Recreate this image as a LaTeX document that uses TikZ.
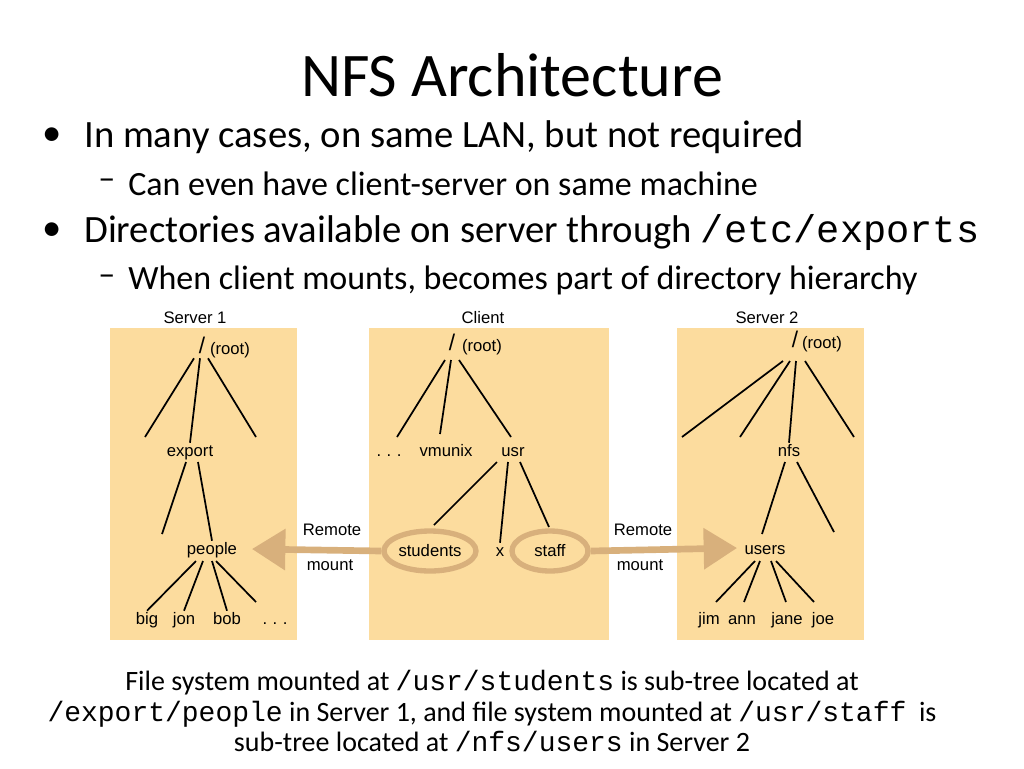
\documentclass[tikz,border=0pt]{standalone}
\usepackage{fontspec}
\setmainfont{Carlito}
\setsansfont{Liberation Sans}
\setmonofont{Liberation Mono}
\usetikzlibrary{arrows.meta}
\definecolor{boxfill}{HTML}{FCDC9E}
\definecolor{mountc}{HTML}{D8B07C}
\tikzset{
  dirbox/.style={fill=boxfill, draw=none},
  lbl/.style={font=\sffamily\fontsize{12.5}{14}\selectfont, inner sep=1pt, text height=9pt, text depth=2.5pt},
  edge/.style={line width=1.3pt, black},
  mountring/.style={draw=mountc, line width=4pt, ellipse},
  mountarrow/.style={draw=mountc, line width=5pt, -{Triangle[width=30pt,length=25pt]}},
  bigtxt/.style={anchor=west, inner sep=0pt, font=\fontsize{29}{32}\selectfont},
  subtxt/.style={anchor=west, inner sep=0pt, font=\fontsize{25.5}{28}\selectfont}
}
\usetikzlibrary{shapes.geometric}
\begin{document}
\begin{tikzpicture}[x=0.75pt, y=-0.75pt]
    \useasboundingbox (0, 0) rectangle (1024, 768);

    % title and bullets
    \node[font=\fontsize{46.5}{50}\selectfont] (title) at (512, 75) {NFS Architecture};
    \node[bigtxt] (dot1) at (42, 137) {\textbullet};
    \node[bigtxt] (b1) at (84, 137) {In many cases, on same LAN, but not required};
    \node[subtxt] (dash1) at (98, 184) {--};
    \node[subtxt] (s1) at (128, 184) {Can even have client-server on same machine};
    \node[bigtxt] (dot2) at (42, 232) {\textbullet};
    \node[bigtxt] (b2) at (84, 232) {Directories available on server through \texttt{/etc/exports}};
    \node[subtxt] (dash2) at (98, 280) {--};
    \node[subtxt] (s2) at (128, 280) {When client mounts, becomes part of directory hierarchy};

    % boxes
    \fill[dirbox] (110, 328) rectangle (297, 640);
    \fill[dirbox] (369, 328) rectangle (609, 640);
    \fill[dirbox] (677, 328) rectangle (864, 640);
    \node[lbl] (srv1) at (195, 319) {Server 1};
    \node[lbl] (cli) at (483, 319) {Client};
    \node[lbl] (srv2) at (767, 319) {Server 2};

    % server 1
    \node[lbl, font=\sffamily\fontsize{17}{18}\selectfont] (r1) at (202, 349) {/};
    \node[lbl] (r1t) at (230, 350) {(root)};
    \coordinate (a1) at (145, 437);
    \coordinate (a3) at (256, 437);
    \node[lbl] (export) at (190, 452) {export};
    \coordinate (e1) at (162, 534);
    \node[lbl] (people) at (212, 550) {people};
    \node[lbl] (big) at (147, 620) {big};
    \node[lbl] (jon) at (184, 620) {jon};
    \node[lbl] (bob) at (227, 620) {bob};
    \node[lbl] (dots1) at (275, 620) {.\,\,.\,\,.};
    \draw[edge] (r1.south) ++(-8, 0) -- (a1);
    \draw[edge] (r1.south) ++(-2, 0) -- (export.north);
    \draw[edge] (r1.south) ++(6, 0) -- (a3);
    \draw[edge] (186, 462) -- (e1);
    \draw[edge] (198, 462) -- (people.north);
    \draw[edge] (196, 561) -- (big.north);
    \draw[edge] (203, 561) -- (jon.north);
    \draw[edge] (212, 561) -- (bob.north);
    \draw[edge] (216, 561) -- (256, 602);

    % client
    \node[lbl, font=\sffamily\fontsize{17}{18}\selectfont] (r2) at (452, 346) {/};
    \node[lbl] (r2t) at (482, 347) {(root)};
    \node[lbl] (dots2) at (389, 452) {.\,\,.\,\,.};
    \node[lbl] (vmunix) at (446, 452) {vmunix};
    \node[lbl] (usr) at (513, 452) {usr};
    \node[lbl] (students) at (430, 552) {students};
    \node[lbl] (x) at (500, 552) {x};
    \node[lbl] (staff) at (550, 552) {staff};
    \draw[edge] (445, 360) -- (397, 437);
    \draw[edge] (451, 360) -- (440, 434);
    \draw[edge] (459, 360) -- (511, 437);
    \draw[edge] (497, 462) -- (434, 525);
    \draw[edge] (508, 462) -- (x.north);
    \draw[edge] (520, 462) -- (549, 527);
    \node[mountring, minimum width=69pt, minimum height=30pt] (ring1) at (430, 551) {};
    \node[mountring, minimum width=57pt, minimum height=30pt] (ring2) at (550, 551) {};

    % server 2
    \node[lbl, font=\sffamily\fontsize{17}{18}\selectfont] (r3) at (795, 343) {/};
    \node[lbl] (r3t) at (822, 344) {(root)};
    \node[lbl] (nfs) at (789, 452) {nfs};
    \node[lbl] (users) at (765, 550) {users};
    \node[lbl] (jim) at (709, 620) {jim};
    \node[lbl] (ann) at (742, 620) {ann};
    \node[lbl] (jane) at (787, 620) {jane};
    \node[lbl] (joe) at (823, 620) {joe};
    \draw[edge] (783, 361) -- (682, 437);
    \draw[edge] (790, 361) -- (740, 437);
    \draw[edge] (796, 361) -- (nfs.north);
    \draw[edge] (805, 361) -- (854, 437);
    \draw[edge] (785, 462) -- (762, 534);
    \draw[edge] (797, 462) -- (834, 532);
    \draw[edge] (755, 561) -- (716, 602);
    \draw[edge] (760, 561) -- (744, 602);
    \draw[edge] (771, 561) -- (786, 602);
    \draw[edge] (776, 561) -- (814, 602);

    % remote mounts
    \coordinate (tip1) at (252, 549);
    \coordinate (tip2) at (737, 548);
    \draw[mountarrow] (ring1.west) -- (tip1);
    \draw[mountarrow] (ring2.east) -- (tip2);
    \node[lbl] (rem1) at (332, 531) {Remote};
    \node[lbl] (mnt1) at (330, 566) {mount};
    \node[lbl] (rem2) at (643, 531) {Remote};
    \node[lbl] (mnt2) at (640, 566) {mount};

    % caption
    \node[align=center, font=\fontsize{21}{23}\selectfont] (caption) at (492, 711)
      {File system mounted at \texttt{/usr/students} is sub-tree located at\\
       \texttt{/export/people} in Server 1, and file system mounted at \texttt{/usr/staff}\ \ is\\
       sub-tree located at \texttt{/nfs/users} in Server 2};
\end{tikzpicture}
\end{document}
